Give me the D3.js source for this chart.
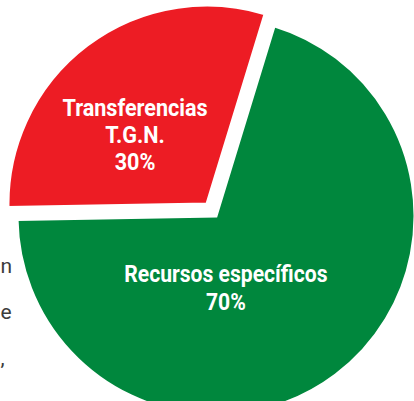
<!DOCTYPE html>
<html><head><meta charset="utf-8">
<script src="https://cdn.jsdelivr.net/npm/d3@7"></script>
<style>html,body{margin:0;padding:0;background:#fff;overflow:hidden}</style>
</head><body>
<svg id="chart" width="414" height="401"></svg>
<script>
// ---- data ----
const categories = ["Recursos específicos", "Transferencias T.G.N."];
const values = [70, 30];
const labelLines = [["Recursos específicos"], ["Transferencias", "T.G.N."]];
const sideFragments = ["n", "e", ","];

// ---- layout / style ----
const W = 414, H = 401;
const cx = 216, cy = 216, R = 199;
const explodeBy = [0, 15];
const fontSize = [24, 24];
const lineGap = [28, 27];
const labelNudge = [[-44, -6], [-18, -3]];
const squeeze = [0.88, 0.9];
const color = d3.scaleOrdinal().domain(categories).range(["#00873d", "#ed1c24"]);

const svg = d3.select("#chart");
svg.append("rect").attr("width", W).attr("height", H).attr("fill", "#fff");

// neighbouring text fragments on the left edge
svg.selectAll("text.frag").data(sideFragments).join("text")
  .attr("class", "frag")
  .attr("x", 0.5)
  .attr("y", (d, i) => 273 + i * 46)
  .attr("text-anchor", "start")
  .attr("font-family", "Roboto, 'Liberation Sans', sans-serif")
  .attr("font-size", 21)
  .attr("fill", "#3c3c3c")
  .text(d => d);

const start = 17 * Math.PI / 180;
const pie = d3.pie().sort(null).value(d => d.value)
  .startAngle(start).endAngle(start + 2 * Math.PI);
const data = categories.map((c, i) => ({ cat: c, value: values[i], lines: labelLines[i], i }));
const total = d3.sum(values);
const arcs = pie(data);
const arc = d3.arc().innerRadius(0).outerRadius(R);
const labelArc = d3.arc().innerRadius(0).outerRadius(R * 0.9);

const g = svg.append("g").attr("transform", `translate(${cx},${cy})`);

const slice = g.selectAll("g.slice").data(arcs).join("g")
  .attr("class", "slice")
  .attr("transform", d => {
    const a = (d.startAngle + d.endAngle) / 2;
    const k = explodeBy[d.data.i];
    return `translate(${Math.sin(a) * k},${-Math.cos(a) * k})`;
  });

slice.append("path")
  .attr("d", arc)
  .attr("fill", d => color(d.data.cat))
  .attr("stroke", "#fff")
  .attr("stroke-width", 3);

slice.each(function (d) {
  const i = d.data.i;
  const c = labelArc.centroid(d);
  const x = c[0] + labelNudge[i][0];
  const lines = d.data.lines.concat([Math.round(d.data.value / total * 100) + "%"]);
  const n = lines.length;
  const y0 = c[1] + labelNudge[i][1] - (n - 2) * lineGap[i] / 2;
  const t = d3.select(this).append("g")
    .attr("transform", `translate(${x},0) scale(${squeeze[i]},1)`);
  t.selectAll("text").data(lines).join("text")
    .attr("x", 0)
    .attr("y", (l, j) => y0 + j * lineGap[i])
    .attr("text-anchor", "middle")
    .attr("font-family", "Roboto, 'Liberation Sans', sans-serif")
    .attr("font-weight", 700)
    .attr("font-size", fontSize[i])
    .attr("fill", "#fff")
    .text(l => l);
});
</script>
</body></html>
